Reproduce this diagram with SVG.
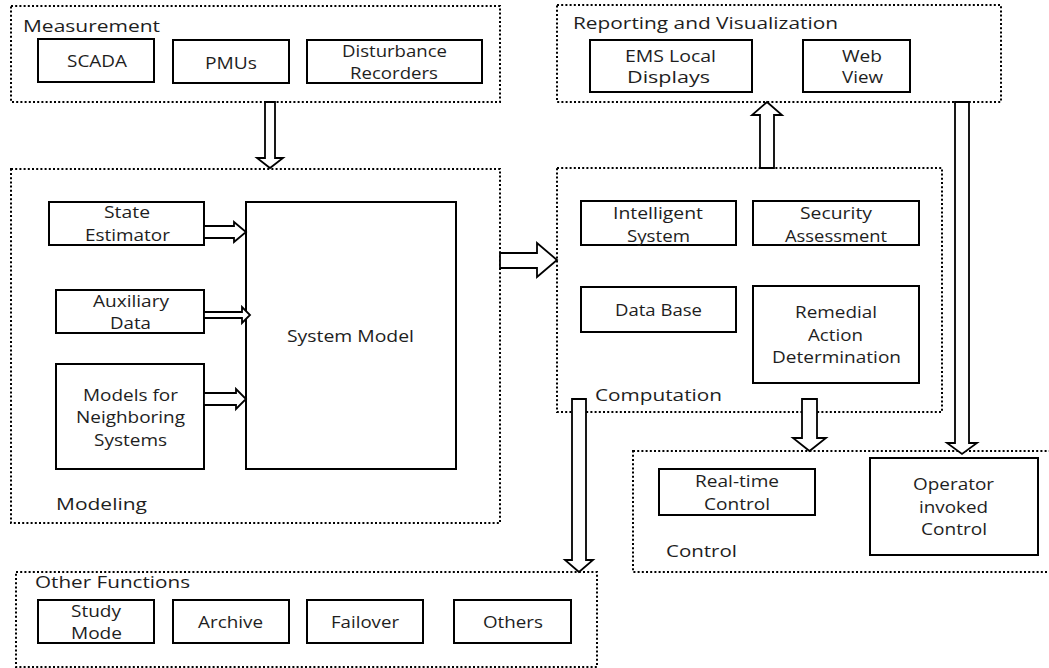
<svg xmlns="http://www.w3.org/2000/svg" width="1049" height="668" viewBox="0 0 1049 668">
<style>
  .grp { fill: none; stroke: #000; stroke-width: 2; stroke-dasharray: 2 2.2; }
  .box { fill: #fff; stroke: #000; stroke-width: 2; }
  .arr { fill: #fff; stroke: #000; stroke-width: 1.8; stroke-linejoin: miter; }
  text { font-family: "Open Sans", "Liberation Sans", sans-serif; font-size: 17px; fill: #1e1e1e; }
</style>
<rect width="1049" height="668" fill="#fff"/>

<g id="measurement">
  <rect class="grp" x="11" y="6" width="489" height="96"/>
  <text x="23" y="32" textLength="137" lengthAdjust="spacingAndGlyphs">Measurement</text>
</g>
<g id="scada">
  <rect class="box" x="38" y="39" width="116" height="43"/>
  <text x="67" y="67" textLength="60" lengthAdjust="spacingAndGlyphs">SCADA</text>
</g>
<g id="pmus">
  <rect class="box" x="173" y="40" width="116" height="43"/>
  <text x="205" y="69" textLength="52" lengthAdjust="spacingAndGlyphs">PMUs</text>
</g>
<g id="disturbance">
  <rect class="box" x="307" y="40" width="175" height="43"/>
  <text x="342" y="57" textLength="105" lengthAdjust="spacingAndGlyphs">Disturbance</text>
  <text x="350" y="79" textLength="88" lengthAdjust="spacingAndGlyphs">Recorders</text>
</g>

<g id="reporting">
  <rect class="grp" x="557" y="5" width="444" height="97"/>
  <text x="573" y="29" textLength="265" lengthAdjust="spacingAndGlyphs">Reporting and Visualization</text>
</g>
<g id="ems">
  <rect class="box" x="590" y="40" width="162" height="52"/>
  <text x="625" y="62" textLength="91" lengthAdjust="spacingAndGlyphs">EMS Local</text>
  <text x="627" y="83" textLength="83" lengthAdjust="spacingAndGlyphs">Displays</text>
</g>
<g id="webview">
  <rect class="box" x="803" y="40" width="107" height="52"/>
  <text x="842" y="62" textLength="40" lengthAdjust="spacingAndGlyphs">Web</text>
  <text x="842" y="83" textLength="41" lengthAdjust="spacingAndGlyphs">View</text>
</g>

<g id="modeling">
  <rect class="grp" x="11" y="169" width="489" height="354"/>
  <text x="56" y="510" textLength="91" lengthAdjust="spacingAndGlyphs">Modeling</text>
</g>
<g id="state-estimator">
  <rect class="box" x="49" y="202" width="155" height="43"/>
  <text x="104" y="218" textLength="46" lengthAdjust="spacingAndGlyphs">State</text>
  <text x="85" y="241" textLength="85" lengthAdjust="spacingAndGlyphs">Estimator</text>
</g>
<g id="auxiliary">
  <rect class="box" x="56" y="290" width="148" height="43"/>
  <text x="93" y="307" textLength="76" lengthAdjust="spacingAndGlyphs">Auxiliary</text>
  <text x="110" y="329" textLength="41" lengthAdjust="spacingAndGlyphs">Data</text>
</g>
<g id="neighbor-models">
  <rect class="box" x="56" y="364" width="148" height="105"/>
  <text x="83" y="401" textLength="95" lengthAdjust="spacingAndGlyphs">Models for</text>
  <text x="76" y="423" textLength="109" lengthAdjust="spacingAndGlyphs">Neighboring</text>
  <text x="94" y="446" textLength="73" lengthAdjust="spacingAndGlyphs">Systems</text>
</g>
<g id="system-model">
  <rect class="box" x="246" y="202" width="210" height="267"/>
  <text x="287" y="342" textLength="127" lengthAdjust="spacingAndGlyphs">System Model</text>
</g>

<g id="computation">
  <rect class="grp" x="557" y="168" width="385" height="244"/>
  <text x="595" y="401" textLength="127" lengthAdjust="spacingAndGlyphs">Computation</text>
</g>
<g id="intelligent">
  <rect class="box" x="581" y="201" width="155" height="44"/>
  <text x="613" y="219" textLength="90" lengthAdjust="spacingAndGlyphs">Intelligent</text>
  <text x="627" y="242" textLength="63" lengthAdjust="spacingAndGlyphs">System</text>
</g>
<g id="security">
  <rect class="box" x="753" y="201" width="166" height="44"/>
  <text x="800" y="219" textLength="72" lengthAdjust="spacingAndGlyphs">Security</text>
  <text x="785" y="242" textLength="102" lengthAdjust="spacingAndGlyphs">Assessment</text>
</g>
<g id="database">
  <rect class="box" x="581" y="287" width="155" height="45"/>
  <text x="615" y="316" textLength="87" lengthAdjust="spacingAndGlyphs">Data Base</text>
</g>
<g id="remedial">
  <rect class="box" x="753" y="286" width="166" height="97"/>
  <text x="795" y="318" textLength="82" lengthAdjust="spacingAndGlyphs">Remedial</text>
  <text x="808" y="341" textLength="55" lengthAdjust="spacingAndGlyphs">Action</text>
  <text x="772" y="363" textLength="129" lengthAdjust="spacingAndGlyphs">Determination</text>
</g>

<g id="control">
  <rect class="grp" x="633" y="451" width="430" height="121"/>
  <text x="666" y="557" textLength="71" lengthAdjust="spacingAndGlyphs">Control</text>
</g>
<g id="realtime">
  <rect class="box" x="659" y="469" width="156" height="46"/>
  <text x="695" y="487" textLength="84" lengthAdjust="spacingAndGlyphs">Real-time</text>
  <text x="704" y="510" textLength="66" lengthAdjust="spacingAndGlyphs">Control</text>
</g>
<g id="operator">
  <rect class="box" x="870" y="458" width="168" height="97"/>
  <text x="913" y="490" textLength="81" lengthAdjust="spacingAndGlyphs">Operator</text>
  <text x="919" y="513" textLength="69" lengthAdjust="spacingAndGlyphs">invoked</text>
  <text x="921" y="535" textLength="66" lengthAdjust="spacingAndGlyphs">Control</text>
</g>

<g id="other-functions">
  <rect class="grp" x="16" y="572" width="581" height="95"/>
  <text x="35" y="588" textLength="155" lengthAdjust="spacingAndGlyphs">Other Functions</text>
</g>
<g id="study">
  <rect class="box" x="38" y="600" width="116" height="43"/>
  <text x="71" y="617" textLength="50" lengthAdjust="spacingAndGlyphs">Study</text>
  <text x="71" y="639" textLength="51" lengthAdjust="spacingAndGlyphs">Mode</text>
</g>
<g id="archive">
  <rect class="box" x="173" y="600" width="116" height="43"/>
  <text x="198" y="628" textLength="65" lengthAdjust="spacingAndGlyphs">Archive</text>
</g>
<g id="failover">
  <rect class="box" x="307" y="600" width="116" height="43"/>
  <text x="331" y="628" textLength="68" lengthAdjust="spacingAndGlyphs">Failover</text>
</g>
<g id="others">
  <rect class="box" x="454" y="600" width="117" height="43"/>
  <text x="483" y="628" textLength="60" lengthAdjust="spacingAndGlyphs">Others</text>
</g>

<g id="connectors">
  <polygon class="arr" points="265,102 275,102 275,158 283,158 270,168 257,158 265,158"/>
  <polygon class="arr" points="204,226 234,226 234,222 246,232 234,242 234,238 204,238"/>
  <polygon class="arr" points="204,312 242,312 242,307 250,315 242,323 242,318 204,318"/>
  <polygon class="arr" points="204,393 236,393 236,389 246,399 236,409 236,405 204,405"/>
  <polygon class="arr" points="500,253 537,253 537,243 557,260 537,277 537,268 500,268"/>
  <polygon class="arr" points="760,168 760,115 752,115 767,102 782,115 774,115 774,168"/>
  <polygon class="arr" points="572,399 586,399 586,560 593,560 579,572 565,560 572,560"/>
  <polygon class="arr" points="802,399 817,399 817,438 826,438 809.5,451 793,438 802,438"/>
  <polygon class="arr" points="955,102 969,102 969,443 977,443 962,454 947,443 955,443"/>
</g>
</svg>
